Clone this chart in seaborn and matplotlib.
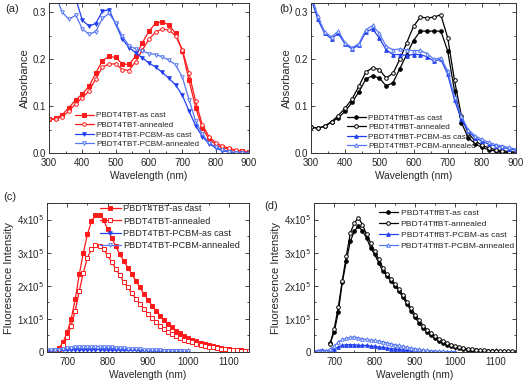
import numpy as np
import pandas as pd
import matplotlib
matplotlib.use('Agg')
import matplotlib.pyplot as plt
from matplotlib.ticker import MultipleLocator, FuncFormatter
import seaborn as sns

sns.set_style('ticks')
plt.rcParams['font.family'] = ['Liberation Sans', 'DejaVu Sans']

# absorbance wavelengths (markers every 20 nm)
wl_abs = list(range(300, 901, 20))

# (a) PBDT4TBT
a_cast = [0.072, 0.074, 0.082, 0.097, 0.113, 0.126, 0.142, 0.170, 0.197, 0.206, 0.204,
          0.190, 0.189, 0.207, 0.235, 0.260, 0.277, 0.280, 0.273, 0.255, 0.218, 0.155,
          0.097, 0.053, 0.030, 0.018, 0.012, 0.008, 0.005, 0.004, 0.002]
a_ann = [0.072, 0.072, 0.077, 0.090, 0.105, 0.118, 0.132, 0.158, 0.183, 0.190, 0.190,
         0.178, 0.176, 0.195, 0.220, 0.243, 0.258, 0.265, 0.262, 0.250, 0.220, 0.170,
         0.110, 0.060, 0.035, 0.022, 0.015, 0.010, 0.006, 0.004, 0.002]
a_pcbm_cast = [0.45, 0.42, 0.39, 0.36, 0.33, 0.283, 0.271, 0.276, 0.302, 0.306, 0.275,
               0.243, 0.225, 0.214, 0.203, 0.192, 0.183, 0.172, 0.159, 0.145, 0.123, 0.090,
               0.058, 0.035, 0.020, 0.011, 0.005, 0.002, 0.000, 0.000, 0.000]
a_pcbm_ann = [0.37, 0.335, 0.300, 0.285, 0.294, 0.265, 0.253, 0.259, 0.287, 0.298, 0.277,
              0.249, 0.229, 0.222, 0.218, 0.212, 0.210, 0.205, 0.198, 0.188, 0.162, 0.114,
              0.068, 0.040, 0.022, 0.013, 0.007, 0.003, 0.001, 0.000, 0.000]

# (b) PBDT4TffBT
b_cast = [0.055, 0.053, 0.057, 0.066, 0.075, 0.089, 0.108, 0.130, 0.157, 0.165, 0.160,
          0.143, 0.150, 0.180, 0.210, 0.240, 0.260, 0.260, 0.260, 0.260, 0.218, 0.133,
          0.065, 0.033, 0.020, 0.012, 0.007, 0.004, 0.002, 0.001, 0.000]
b_ann = [0.055, 0.053, 0.057, 0.067, 0.080, 0.096, 0.115, 0.142, 0.172, 0.182, 0.178,
         0.160, 0.170, 0.200, 0.235, 0.270, 0.290, 0.288, 0.290, 0.295, 0.246, 0.155,
         0.080, 0.042, 0.026, 0.017, 0.011, 0.007, 0.005, 0.003, 0.002]
b_pcbm_cast = [0.33, 0.285, 0.255, 0.244, 0.255, 0.232, 0.222, 0.230, 0.258, 0.265, 0.245,
               0.220, 0.210, 0.210, 0.208, 0.210, 0.210, 0.205, 0.196, 0.200, 0.168, 0.113,
               0.072, 0.046, 0.033, 0.025, 0.019, 0.015, 0.012, 0.009, 0.006]
b_pcbm_ann = [0.34, 0.292, 0.258, 0.248, 0.260, 0.235, 0.225, 0.233, 0.262, 0.272, 0.255,
              0.228, 0.220, 0.222, 0.220, 0.218, 0.219, 0.212, 0.200, 0.203, 0.175, 0.120,
              0.078, 0.050, 0.037, 0.029, 0.023, 0.018, 0.015, 0.012, 0.008]

# fluorescence (x1e5), markers every 10 nm
wl_c = list(range(660, 1151, 10))
c_cast = [0.03, 0.06, 0.12, 0.3, 0.6, 1.0, 1.6, 2.35, 3.0, 3.55, 3.95, 4.15, 4.15, 4.0,
          3.7, 3.45, 3.2, 2.95, 2.75, 2.55, 2.35, 2.15, 1.95, 1.75, 1.58, 1.4, 1.25, 1.1,
          0.97, 0.85, 0.74, 0.64, 0.56, 0.49, 0.43, 0.37, 0.32, 0.27, 0.23, 0.2, 0.17,
          0.14, 0.12, 0.1, 0.08, 0.07, 0.06, 0.05, 0.04, 0.03]
c_ann = [0.02, 0.04, 0.08, 0.2, 0.45, 0.8, 1.25, 1.85, 2.4, 2.85, 3.1, 3.22, 3.2, 3.1,
         2.92, 2.72, 2.52, 2.32, 2.12, 1.95, 1.78, 1.6, 1.45, 1.3, 1.15, 1.02, 0.9, 0.8,
         0.7, 0.61, 0.54, 0.47, 0.42, 0.37, 0.33, 0.29, 0.25, 0.22, 0.19, 0.16, 0.14,
         0.12, 0.1, 0.09, 0.07, 0.06, 0.05, 0.04, 0.04, 0.03]
wl_cb = list(range(650, 1001, 10))
c_pcbm_cast = [0.04, 0.04, 0.05, 0.05, 0.05, 0.06, 0.06, 0.07, 0.07, 0.07, 0.07, 0.07,
               0.07, 0.07, 0.07, 0.06, 0.06, 0.06, 0.06, 0.05, 0.05, 0.05, 0.05, 0.04,
               0.04, 0.04, 0.03, 0.03, 0.03, 0.03, 0.02, 0.02, 0.02, 0.02, 0.01, 0.01]
c_pcbm_ann = [0.05, 0.05, 0.06, 0.07, 0.09, 0.11, 0.13, 0.14, 0.15, 0.16, 0.16, 0.15,
              0.16, 0.16, 0.15, 0.14, 0.14, 0.13, 0.12, 0.11, 0.10, 0.09, 0.09, 0.08,
              0.07, 0.06, 0.06, 0.05, 0.05, 0.04, 0.04, 0.03, 0.03, 0.03, 0.02, 0.02]

wl_d = list(range(690, 1151, 10))
d_cast = [0.27, 0.6, 1.2, 2.1, 2.75, 3.35, 3.65, 3.8, 3.65, 3.45, 3.15, 2.95, 2.7, 2.45,
          2.3, 2.15, 2.0, 1.85, 1.65, 1.45, 1.25, 1.05, 0.88, 0.72, 0.6, 0.5, 0.41, 0.33,
          0.27, 0.22, 0.18, 0.14, 0.11, 0.09, 0.07, 0.06, 0.05, 0.04, 0.03, 0.03, 0.02,
          0.02, 0.01, 0.01, 0.01, 0.01, 0.01]
d_ann = [0.25, 0.7, 1.35, 2.15, 2.9, 3.6, 3.9, 4.05, 3.85, 3.55, 3.3, 3.05, 2.8, 2.55,
         2.35, 2.2, 2.05, 1.9, 1.72, 1.52, 1.32, 1.13, 0.96, 0.8, 0.67, 0.56, 0.47, 0.39,
         0.32, 0.27, 0.22, 0.18, 0.15, 0.12, 0.1, 0.08, 0.07, 0.06, 0.05, 0.04, 0.04,
         0.03, 0.03, 0.02, 0.02, 0.02, 0.01]
wl_db = list(range(650, 1001, 10))
d_pcbm_cast = [0.02, 0.04, 0.07, 0.03, 0.05, 0.1, 0.15, 0.2, 0.22, 0.22, 0.22, 0.2, 0.2,
               0.2, 0.18, 0.17, 0.15, 0.14, 0.12, 0.1, 0.09, 0.08, 0.06, 0.05, 0.04, 0.03,
               0.03, 0.02, 0.02, 0.01, 0.01, 0.01, 0.0, 0.0, 0.0, 0.0]
d_pcbm_ann = [0.02, 0.03, 0.04, 0.03, 0.08, 0.18, 0.3, 0.38, 0.41, 0.44, 0.46, 0.42, 0.4,
              0.38, 0.36, 0.35, 0.33, 0.31, 0.28, 0.25, 0.22, 0.2, 0.17, 0.14, 0.12, 0.1,
              0.08, 0.06, 0.05, 0.04, 0.03, 0.02, 0.02, 0.01, 0.01, 0.01]

RED = '#ff1a1a'
BLUE = '#2240ee'
BLUE2 = '#5577f2'
BLACK = '#000000'

fig = plt.figure(figsize=(5.24, 3.82), dpi=100)
W, H = 524, 382


def make_ax(l, r, t, b):
    return fig.add_axes([l / W, 1 - b / H, (r - l) / W, (b - t) / H])


def draw(ax, x, y, label, color, marker, filled, scale=1.0):
    df = pd.DataFrame({'x': x, 'y': np.array(y) * scale})
    sns.lineplot(data=df, x='x', y='y', ax=ax, color=color, marker=marker, label=label,
                 markersize=2.6, linewidth=0.9, markeredgewidth=0.7,
                 markerfacecolor=color if filled else 'white', markeredgecolor=color,
                 sort=False, estimator=None)


def style(ax, xlim, ylim, xmaj, xmin, ymaj, ymin):
    ax.set_xlim(*xlim)
    ax.set_ylim(*ylim)
    ax.xaxis.set_major_locator(MultipleLocator(xmaj))
    ax.xaxis.set_minor_locator(MultipleLocator(xmin))
    ax.yaxis.set_major_locator(MultipleLocator(ymaj))
    ax.yaxis.set_minor_locator(MultipleLocator(ymin))
    ax.tick_params(which='both', direction='in', top=True, right=True, labelsize=7,
                   width=0.6)
    ax.tick_params(axis='x', pad=3.5)
    ax.tick_params(axis='y', pad=2)
    ax.tick_params(which='major', length=3)
    ax.tick_params(which='minor', length=1.5)
    for s in ax.spines.values():
        s.set_linewidth(0.7)
        s.set_color('#333333')
    ax.set_xlabel('Wavelength (nm)', fontsize=7.3, labelpad=2)


def place_legend(ax, anchor, fs, spacing=0.35):
    ax.legend(loc='upper left', bbox_to_anchor=anchor, frameon=False, fontsize=fs,
              handlelength=2.3, handletextpad=0.3, labelspacing=spacing,
              borderaxespad=0, borderpad=0)


def sci(v, pos):
    n = int(round(v / 1e5))
    return '0' if n == 0 else '%dx10$^5$' % n


# (a)
ax = make_ax(49, 249, 3, 153)
draw(ax, wl_abs, a_cast, 'PBDT4TBT-as cast', RED, 's', True)
draw(ax, wl_abs, a_ann, 'PBDT4TBT-annealed', RED, 'o', False)
draw(ax, wl_abs, a_pcbm_cast, 'PBDT4TBT-PCBM-as cast', BLUE, 'v', True)
draw(ax, wl_abs, a_pcbm_ann, 'PBDT4TBT-PCBM-annealed', BLUE2, 'v', False)
style(ax, (300, 900), (0, 0.32), 100, 50, 0.1, 0.05)
ax.yaxis.set_major_formatter(FuncFormatter(lambda v, p: '%.1f' % v))
ax.set_ylabel('Absorbance', fontsize=8, labelpad=2)
place_legend(ax, (0.13, 0.275), 5.9, 0.22)
fig.text(5 / W, 1 - 12 / H, '(a)', fontsize=8)

# (b)
ax = make_ax(311, 516, 3, 153)
draw(ax, wl_abs, b_cast, 'PBDT4TffBT-as cast', BLACK, 'o', True)
draw(ax, wl_abs, b_ann, 'PBDT4TffBT-annealed', BLACK, 'o', False)
draw(ax, wl_abs, b_pcbm_cast, 'PBDT4TffBT-PCBM-as cast', BLUE, '^', True)
draw(ax, wl_abs, b_pcbm_ann, 'PBDT4TffBT-PCBM-annealed', BLUE2, '^', False)
style(ax, (300, 900), (0, 0.32), 100, 50, 0.1, 0.05)
ax.yaxis.set_major_formatter(FuncFormatter(lambda v, p: '%.1f' % v))
ax.set_ylabel('Absorbance', fontsize=8, labelpad=2)
place_legend(ax, (0.175, 0.26), 5.9, 0.22)
fig.text(279 / W, 1 - 12 / H, '(b)', fontsize=8)

# (c)
ax = make_ax(47, 249, 203, 352)
draw(ax, wl_c, c_cast, 'PBDT4TBT-as cast', RED, 's', True, 1e5)
draw(ax, wl_c, c_ann, 'PBDT4TBT-annealed', RED, 's', False, 1e5)
draw(ax, wl_cb, c_pcbm_cast, 'PBDT4TBT-PCBM-as cast', BLUE, 'v', True, 1e5)
draw(ax, wl_cb, c_pcbm_ann, 'PBDT4TBT-PCBM-annealed', BLUE2, 'v', False, 1e5)
style(ax, (650, 1150), (0, 4.5e5), 100, 50, 1e5, 0.5e5)
ax.yaxis.set_major_formatter(FuncFormatter(sci))
ax.set_ylabel('Fluorescence Intensity', fontsize=8, labelpad=2)
place_legend(ax, (0.26, 0.99), 6.6)
fig.text(3 / W, 1 - 200 / H, '(c)', fontsize=8)

# (d)
ax = make_ax(314, 516, 203, 352)
draw(ax, wl_d, d_cast, 'PBDT4TffBT-as cast', BLACK, 'o', True, 1e5)
draw(ax, wl_d, d_ann, 'PBDT4TffBT-annealed', BLACK, 'o', False, 1e5)
draw(ax, wl_db, d_pcbm_cast, 'PBDT4TffBT-PCBM-as cast', BLUE, '^', True, 1e5)
draw(ax, wl_db, d_pcbm_ann, 'PBDT4TffBT-PCBM-annealed', BLUE2, '^', False, 1e5)
style(ax, (650, 1150), (0, 4.5e5), 100, 50, 1e5, 0.5e5)
ax.yaxis.set_major_formatter(FuncFormatter(sci))
ax.set_ylabel('Fluorescence Intensity', fontsize=8, labelpad=2)
place_legend(ax, (0.32, 0.96), 6.1)
fig.text(264 / W, 1 - 209 / H, '(d)', fontsize=8)

fig.savefig('out.png', dpi=100)
